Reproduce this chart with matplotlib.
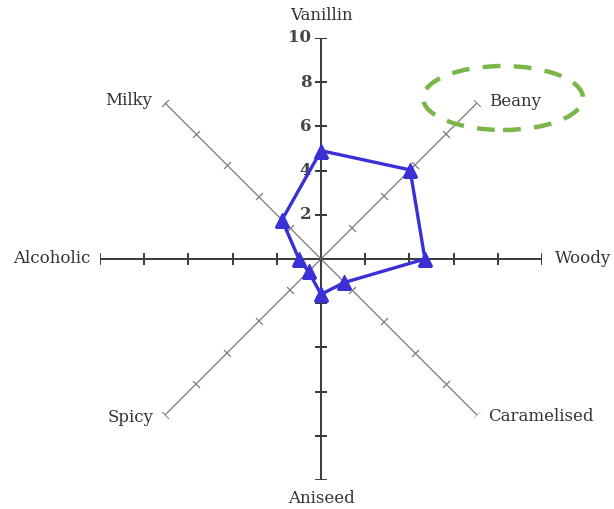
import numpy as np
import matplotlib
matplotlib.use("Agg")
import matplotlib.pyplot as plt
from matplotlib.patches import Ellipse

categories = ["Vanillin", "Beany", "Woody", "Caramelised", "Aniseed", "Spicy", "Alcoholic", "Milky"]
values = [4.9, 5.7, 4.7, 1.5, 1.6, 0.8, 1.0, 2.5]
tick_values = [2, 4, 6, 8, 10]
tick_labels = ["2", "4", "6", "8", "10"]

FONT = "DejaVu Serif"
fig = plt.figure(figsize=(6.14, 5.09), dpi=100)
fig.patch.set_facecolor("white")
ax = fig.add_axes([0.1629, 0.0570, 0.7199, 0.8684], projection="polar")
ax.set_theta_zero_location("N")
ax.set_theta_direction(-1)
ax.set_ylim(0, 10)
ax.grid(False)
ax.spines["polar"].set_visible(False)
ax.set_xticks([])
ax.set_yticks([])
ax.patch.set_alpha(0)

n = len(categories)
angles = np.deg2rad(np.arange(n) * 360.0 / n)

# spokes with perpendicular tick marks
for i, th in enumerate(angles):
    deg = i * 360.0 / n
    main = (i % 2 == 0)
    col = "#3a3a3a" if main else "#7a7a7a"
    lw = 1.4 if main else 0.9
    ax.plot([th, th], [0, 10], color=col, lw=lw, zorder=1, solid_capstyle="butt")
    ax.plot([th] * len(tick_values), tick_values, linestyle="none",
            marker=(2, 0, 90 - deg), markersize=8 if main else 7,
            markeredgecolor=col, markeredgewidth=lw, zorder=1)

# tick labels on the Vanillin axis
for v, lab in zip(tick_values, tick_labels):
    ax.annotate(lab, xy=(0, v), xytext=(-7, 0), textcoords="offset points",
                ha="right", va="center", fontsize=12, family=FONT, color="#444444",
                fontweight="bold", annotation_clip=False)

# data polygon
th_closed = np.append(angles, angles[0])
v_closed = np.append(values, values[0])
ax.plot(th_closed, v_closed, color="#3b2fd6", lw=2.4, zorder=3)
ax.plot(angles, values, linestyle="none", marker="^", markersize=10.5,
        color="#3b2fd6", zorder=4)

# category labels
label_pos = {
    "Vanillin": (0.0, 11.0, "center", "center"),
    "Beany": (46.8, 10.4, "left", "center"),
    "Woody": (90.0, 10.6, "left", "center"),
    "Caramelised": (133.2, 10.4, "left", "center"),
    "Aniseed": (180.0, 10.85, "center", "center"),
    "Spicy": (226.5, 10.45, "right", "center"),
    "Alcoholic": (270.0, 10.45, "right", "center"),
    "Milky": (313.2, 10.5, "right", "center"),
}
for cat in categories:
    d, r, ha, va = label_pos[cat]
    ax.text(np.deg2rad(d), r, cat, ha=ha, va=va, fontsize=12, family=FONT,
            color="#333333", clip_on=False)

# dashed green ellipse around Beany (figure pixel coords)
W, H = 614, 509
ell = Ellipse((503 / W, 1 - 98 / H), 160 / W, 64 / H, transform=fig.transFigure,
              fill=False, edgecolor="#7ab648", lw=3.2, linestyle=(0, (4, 3)))
fig.patches.append(ell)

fig.savefig("out.png", dpi=100, facecolor="white")
